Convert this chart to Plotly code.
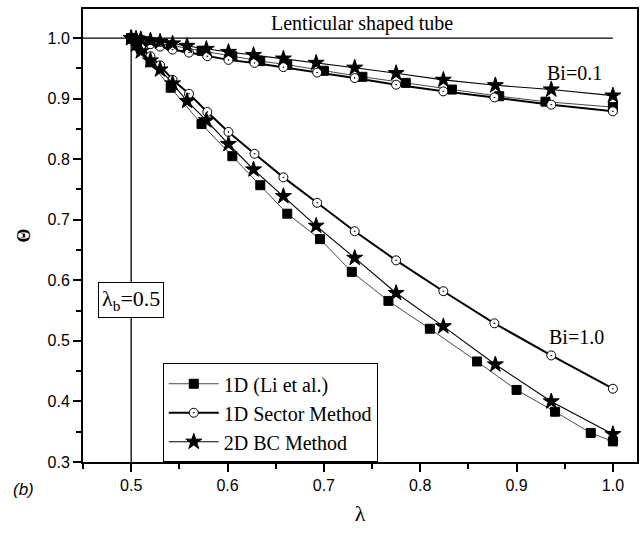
import plotly.graph_objects as go

# ---- data ----
# Bi = 1.0
li_b10_x = [0.500, 0.510, 0.520, 0.541, 0.573, 0.605, 0.634, 0.662, 0.696, 0.729, 0.767, 0.810, 0.859, 0.900, 0.940, 0.977, 1.000]
li_b10_y = [1.000, 0.982, 0.960, 0.918, 0.858, 0.805, 0.757, 0.710, 0.668, 0.614, 0.566, 0.520, 0.466, 0.419, 0.383, 0.348, 0.334]
sec_b10_x = [0.500, 0.505, 0.510, 0.520, 0.530, 0.543, 0.560, 0.579, 0.601, 0.628, 0.658, 0.693, 0.732, 0.775, 0.824, 0.877, 0.936, 1.000]
sec_b10_y = [1.000, 0.993, 0.985, 0.970, 0.955, 0.931, 0.908, 0.878, 0.845, 0.809, 0.770, 0.728, 0.681, 0.633, 0.582, 0.529, 0.476, 0.421]
bc_b10_x = [0.500, 0.505, 0.510, 0.520, 0.530, 0.543, 0.558, 0.578, 0.601, 0.627, 0.658, 0.692, 0.732, 0.775, 0.824, 0.878, 0.936, 1.000]
bc_b10_y = [1.000, 0.989, 0.978, 0.963, 0.948, 0.925, 0.896, 0.864, 0.825, 0.783, 0.739, 0.690, 0.637, 0.579, 0.524, 0.461, 0.400, 0.346]
# Bi = 0.1
li_b01_x = [0.500, 0.510, 0.520, 0.541, 0.573, 0.605, 0.634, 0.662, 0.700, 0.740, 0.785, 0.833, 0.882, 0.930, 1.000]
li_b01_y = [1.000, 0.996, 0.993, 0.988, 0.979, 0.970, 0.962, 0.956, 0.946, 0.936, 0.926, 0.915, 0.904, 0.895, 0.886]
sec_b01_x = [0.500, 0.505, 0.510, 0.520, 0.530, 0.543, 0.560, 0.579, 0.601, 0.628, 0.658, 0.693, 0.732, 0.775, 0.824, 0.877, 0.936, 1.000]
sec_b01_y = [1.000, 0.998, 0.995, 0.990, 0.986, 0.981, 0.976, 0.970, 0.964, 0.959, 0.952, 0.943, 0.934, 0.923, 0.912, 0.902, 0.890, 0.879]
bc_b01_x = [0.500, 0.505, 0.510, 0.520, 0.530, 0.543, 0.558, 0.578, 0.601, 0.627, 0.658, 0.692, 0.732, 0.775, 0.824, 0.878, 0.936, 1.000]
bc_b01_y = [1.000, 0.999, 0.998, 0.996, 0.994, 0.991, 0.987, 0.982, 0.977, 0.972, 0.966, 0.959, 0.951, 0.942, 0.931, 0.922, 0.915, 0.905]

x_ticks = [0.5, 0.6, 0.7, 0.8, 0.9, 1.0]
y_ticks = [0.3, 0.4, 0.5, 0.6, 0.7, 0.8, 0.9, 1.0]

SERIF = "Liberation Serif, Times New Roman, serif"
SANS = "Liberation Sans, Arial, sans-serif"

X_RANGE = [0.45, 1.025]
Y_RANGE = [0.3, 1.048]

fig = go.Figure()

def add(x, y, name, symbol, size, lw, lcolor, show, mfill="black"):
    fig.add_trace(go.Scatter(
        x=x, y=y, mode="lines+markers", name=name, legendgroup=name, showlegend=show,
        line=dict(color=lcolor, width=lw),
        marker=dict(symbol=symbol, size=size, color=mfill, line=dict(color="black", width=1)),
    ))

add(li_b01_x, li_b01_y, "1D (Li et al.)", "square", 9, 0.9, "#333", True)
add(li_b10_x, li_b10_y, "1D (Li et al.)", "square", 9, 0.9, "#333", False)
add(sec_b01_x, sec_b01_y, "1D Sector Method", "circle-dot", 9, 2.0, "black", True, "white")
add(sec_b10_x, sec_b10_y, "1D Sector Method", "circle-dot", 9, 2.0, "black", False, "white")
add(bc_b01_x, bc_b01_y, "2D BC Method", "star", 12, 1.1, "black", True)
add(bc_b10_x, bc_b10_y, "2D BC Method", "star", 12, 1.1, "black", False)

# reference lines at Θ = 1 and λ = λb
fig.add_shape(type="line", xref="paper", yref="y", x0=0, x1=(1.0 - X_RANGE[0]) / (X_RANGE[1] - X_RANGE[0]),
              y0=1.0, y1=1.0, line=dict(color="black", width=1.3))
fig.add_shape(type="line", xref="x", yref="paper", x0=0.5, x1=0.5, y0=0,
              y1=(1.0 - Y_RANGE[0]) / (Y_RANGE[1] - Y_RANGE[0]), line=dict(color="black", width=1.3))

fig.add_annotation(x=0.740, y=1.0, xref="x", yref="y", text="Lenticular shaped tube", showarrow=False,
                   yanchor="bottom", yshift=1, font=dict(family=SERIF, size=20, color="black"))
fig.add_annotation(x=0.960, y=0.943, xref="x", yref="y", text="Bi=0.1", showarrow=False,
                   font=dict(family=SERIF, size=20, color="black"))
fig.add_annotation(x=0.962, y=0.507, xref="x", yref="y", text="Bi=1.0", showarrow=False,
                   font=dict(family=SERIF, size=20, color="black"))
fig.add_annotation(x=0.5, y=0.567, xref="x", yref="y", text="λ<sub>b</sub>=0.5", showarrow=False,
                   font=dict(family=SERIF, size=22, color="black"), bgcolor="white",
                   bordercolor="black", borderwidth=1, borderpad=3)
fig.add_annotation(x=-0.13, y=-0.085, xref="paper", yref="paper", text="<i>(b)</i>", showarrow=False,
                   font=dict(family=SANS, size=17, color="black"))

fig.update_layout(
    width=641, height=533,
    margin=dict(l=83, r=2, t=9, b=71),
    paper_bgcolor="white", plot_bgcolor="white",
    showlegend=True,
    legend=dict(x=0.144, y=0.218, xanchor="left", yanchor="top",
                bordercolor="black", borderwidth=1, bgcolor="white",
                font=dict(family=SERIF, size=20, color="black"),
                itemwidth=50, tracegroupgap=0),
    xaxis=dict(range=X_RANGE, tickvals=x_ticks, ticktext=[f"{v:.1f}" for v in x_ticks],
               ticks="outside", ticklen=8, tickwidth=1.5, tickcolor="black",
               minor=dict(dtick=0.05, tick0=0.45, ticks="outside", ticklen=5, tickwidth=1.5, tickcolor="black"),
               showline=True, linecolor="black", linewidth=2, mirror=True,
               showgrid=False, zeroline=False,
               tickfont=dict(family=SANS, size=16, color="black"),
               title=dict(text="λ", font=dict(family=SERIF, size=22, color="black"), standoff=12)),
    yaxis=dict(range=Y_RANGE, tickvals=y_ticks, ticktext=[f"{v:.1f}" for v in y_ticks],
               ticks="outside", ticklen=8, tickwidth=1.5, tickcolor="black",
               minor=dict(dtick=0.05, tick0=0.3, ticks="outside", ticklen=5, tickwidth=1.5, tickcolor="black"),
               showline=True, linecolor="black", linewidth=2, mirror=True,
               showgrid=False, zeroline=False,
               tickfont=dict(family=SANS, size=16, color="black"),
               title=dict(text="<b>Θ</b>", font=dict(family=SERIF, size=18, color="black"), standoff=12)),
)

fig.write_html("out.html")
